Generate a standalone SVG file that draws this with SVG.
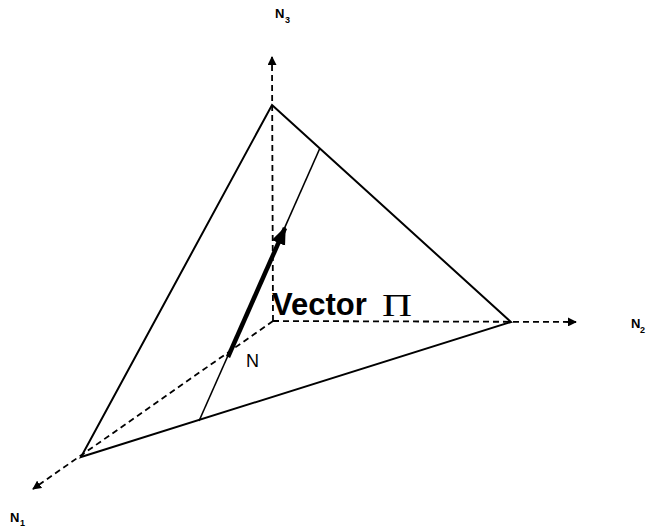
<svg xmlns="http://www.w3.org/2000/svg" width="646" height="529" viewBox="0 0 646 529">
<defs>
<style>
.edge{stroke:#000;stroke-width:2;fill:none;stroke-linecap:round}
.axis{stroke:#000;stroke-width:1.8;fill:none;stroke-dasharray:6 4}
.thin{stroke:#000;stroke-width:1.6;fill:none}
.lbl{font-family:"Liberation Sans",Arial,sans-serif;fill:#000}
</style>
<marker id="ah" viewBox="0 0 10 10" refX="9" refY="5" markerWidth="9" markerHeight="9" markerUnits="userSpaceOnUse" orient="auto">
<path d="M0,0 L10,5 L0,10 z" fill="#000"/>
</marker>
<marker id="ahb" viewBox="0 0 10 10" refX="9" refY="5" markerWidth="4" markerHeight="4" orient="auto">
<path d="M0,1 L10,5 L0,9 z" fill="#000"/>
</marker>
</defs>
<g id="connectors">
<line class="axis" x1="273" y1="321" x2="272" y2="57" marker-end="url(#ah)"/>
<line class="axis" x1="273" y1="321" x2="576" y2="322" marker-end="url(#ah)"/>
<line class="axis" x1="273" y1="321" x2="33" y2="489" marker-end="url(#ah)"/>
<polygon class="edge" points="272,105 511,322 81,457"/>
<line class="thin" x1="320" y1="148" x2="199" y2="421"/>
<line x1="228" y1="357" x2="285" y2="228" stroke="#000" stroke-width="4.5" marker-end="url(#ahb)"/>
</g>
<g id="label-N3"><text class="lbl" x="275" y="18" font-size="13" font-weight="bold">N</text><text class="lbl" x="285" y="23" font-size="9" font-weight="bold">3</text></g>
<g id="label-N2"><text class="lbl" x="631" y="328" font-size="13" font-weight="bold">N</text><text class="lbl" x="640" y="333" font-size="9" font-weight="bold">2</text></g>
<g id="label-N1"><text class="lbl" x="10" y="522" font-size="13" font-weight="bold">N</text><text class="lbl" x="20" y="526" font-size="9" font-weight="bold">1</text></g>
<g id="label-vector"><text class="lbl" x="272" y="315" font-size="31" font-weight="bold">Vector</text><text x="382" y="316" font-size="31" font-family="Liberation Serif,serif" textLength="30" lengthAdjust="spacingAndGlyphs">Π</text></g>
<g id="label-N"><text class="lbl" x="246" y="367" font-size="18">N</text></g>
</svg>
